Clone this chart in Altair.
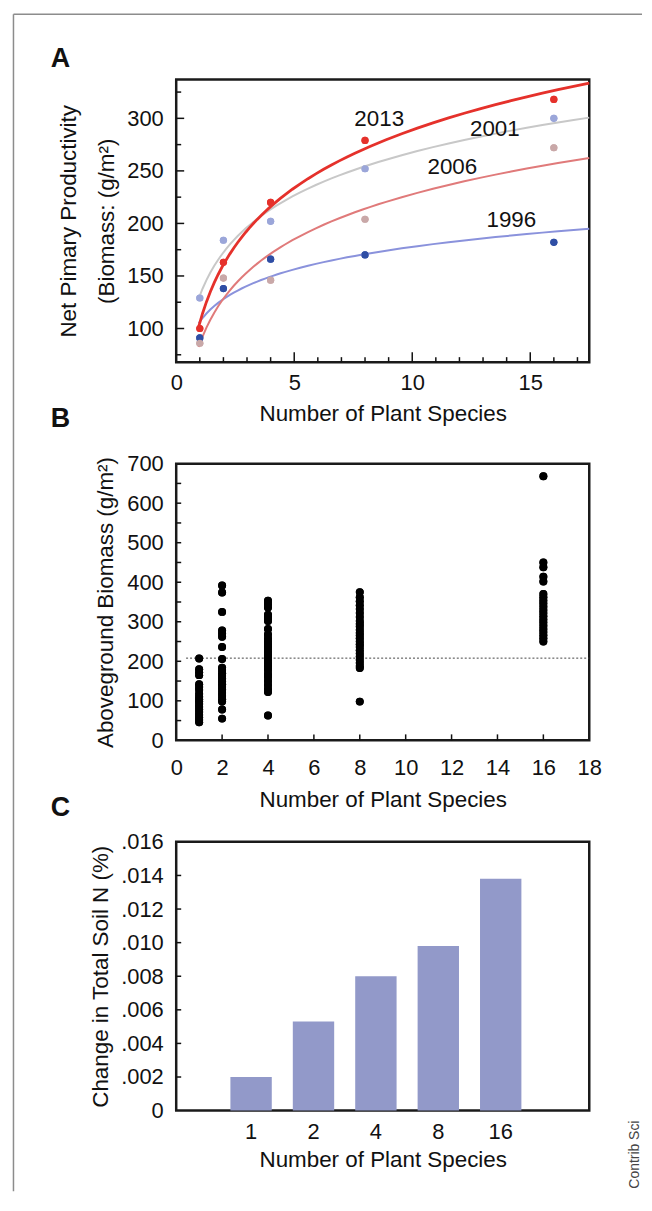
import altair as alt
import pandas as pd

FONT = "Liberation Sans"
INK = "#111111"

# ---------------- Panel A: net primary productivity by year ----------------
species_a = [1, 2, 4, 8, 16]
years = ["1996", "2001", "2006", "2013"]
npp_1996 = [91, 138, 166, 170, 182]
npp_2001 = [129, 184, 202, 252, 300]
npp_2006 = [86, 148, 146, 204, 272]
npp_2013 = [100, 163, 220, 279, 318]
point_colors = ["#2f4ea5", "#9ba6d9", "#c9a8a8", "#e5312b"]
line_colors = ["#8a92dc", "#c8c8c8", "#e07a7a", "#e5312b"]
line_widths = [2.0, 2.0, 2.0, 2.8]
label_x = [14.2, 13.5, 11.7, 8.6]
label_y = [203, 290, 254, 299]

a_xtick_minor = [1, 2, 3, 4, 6, 7, 8, 9, 11, 12, 13, 14, 16, 17]
a_xtick_major = [5, 10, 15]
a_ytick_minor = [75, 125, 175, 225, 275, 325]
a_ytick_major = [100, 150, 200, 250, 300]

# ---------------- Panel B: aboveground biomass per plot ----------------
b_levels = [1, 2, 4, 8, 16]
b_sp1 = [207, 180, 172, 165, 142, 135, 128, 118, 110, 104, 98, 92, 85, 78, 72, 65, 58, 52, 46]
b_sp2 = [392, 374, 325, 278, 270, 262, 236, 206, 184, 178, 170, 163, 156, 149, 142, 135,
         128, 120, 112, 104, 98, 78, 55]
b_sp4 = [353, 345, 336, 318, 310, 302, 282, 268, 258, 250, 242, 234, 226, 218, 210, 202,
         194, 186, 178, 168, 160, 150, 140, 130, 122, 63]
b_sp8 = [375, 362, 352, 342, 332, 322, 312, 302, 295, 288, 280, 272, 265, 258, 250, 243,
         236, 228, 220, 212, 204, 196, 188, 183, 98]
b_sp16 = [668, 450, 438, 414, 402, 370, 362, 354, 346, 338, 330, 322, 314, 306, 298, 290,
          282, 274, 266, 258, 250]
b_ref_value = [208]
b_ref_start = [0.43]
b_ref_end = [18]
b_xtick = [2, 4, 6, 8, 10, 12, 14, 16]
b_ytick = [50, 100, 150, 200, 250, 300, 350, 400, 450, 500, 550, 600, 650]

# ---------------- Panel C: change in total soil N ----------------
c_species = ["1", "2", "4", "8", "16"]
c_change = [0.0020, 0.0053, 0.0080, 0.0098, 0.0138]
c_ytick = [0.002, 0.004, 0.006, 0.008, 0.010, 0.012, 0.014]

# ---------------- tables ----------------
rows = []
for yr, vals, pc, lc, lw in zip(years, [npp_1996, npp_2001, npp_2006, npp_2013],
                                point_colors, line_colors, line_widths):
    for s, v in zip(species_a, vals):
        rows.append({"year": yr, "species": s, "npp": v, "pcolor": pc, "lcolor": lc, "lw": lw})
df_a = pd.DataFrame(rows)
df_a_labels = pd.DataFrame({"year": years, "lx": label_x, "ly": label_y})

brows = []
for s, vals in zip(b_levels, [b_sp1, b_sp2, b_sp4, b_sp8, b_sp16]):
    for v in vals:
        brows.append({"species": s, "biomass": v})
df_b = pd.DataFrame(brows)
df_b_ref = pd.DataFrame({"y": b_ref_value, "x0": b_ref_start, "x1": b_ref_end})

df_c = pd.DataFrame({"species": c_species, "change": c_change})

W = 415
HA, HB, HC = 284, 278, 270
TICK = "#111111"


def one(text):
    return pd.DataFrame({"t": [text]})


def letter(text, y):
    return alt.Chart(one(text)).mark_text(
        font=FONT, fontSize=27, fontWeight="bold", align="left", baseline="alphabetic", color=INK
    ).encode(text="t:N", x=alt.value(-126), y=alt.value(y))


def xticks(vals, scale, axis, h, length):
    return alt.Chart(pd.DataFrame({"v": vals})).mark_rule(color=TICK, strokeWidth=1.5).encode(
        x=alt.X("v:Q", scale=scale, axis=axis), y=alt.value(h), y2=alt.value(h - length))


def yticks(vals, scale, axis, length):
    return alt.Chart(pd.DataFrame({"v": vals})).mark_rule(color=TICK, strokeWidth=1.5).encode(
        y=alt.Y("v:Q", scale=scale, axis=axis), x=alt.value(0), x2=alt.value(length))


# ---------------- Panel A ----------------
xa = alt.Scale(domain=[0, 17.5], nice=False, zero=False)
ya = alt.Scale(domain=[68, 337], nice=False, zero=False)
ax_xa = alt.Axis(values=[0, 5, 10, 15], title="Number of Plant Species",
                 labelPadding=10, titlePadding=10)
ax_ya = alt.Axis(values=[100, 150, 200, 250, 300],
                 title=["Net Pimary Productivity", "\u00a0\u00a0\u00a0\u00a0(Biomass: (g/m²)"],
                 titleLineHeight=38, labelPadding=13, titlePadding=8)

points_a = alt.Chart(df_a).mark_circle(size=52, opacity=1).encode(
    x=alt.X("species:Q", scale=xa, axis=ax_xa),
    y=alt.Y("npp:Q", scale=ya, axis=ax_ya),
    color=alt.Color("pcolor:N", scale=None),
)

lines_a = alt.Chart(df_a).transform_regression(
    "species", "npp", groupby=["year", "lcolor", "lw"], method="log", extent=[0.95, 17.5]
).mark_line().encode(
    x=alt.X("species:Q", scale=xa, axis=ax_xa),
    y=alt.Y("npp:Q", scale=ya, axis=ax_ya),
    color=alt.Color("lcolor:N", scale=None),
    strokeWidth=alt.StrokeWidth("lw:Q", scale=None),
    detail="year:N",
)

labels_a = alt.Chart(df_a_labels).mark_text(
    font=FONT, fontSize=22.5, color=INK, align="center", baseline="middle"
).encode(
    x=alt.X("lx:Q", scale=xa, axis=ax_xa),
    y=alt.Y("ly:Q", scale=ya, axis=ax_ya),
    text="year:N",
)

frame_color = "#8c8c8c"
border_top = alt.Chart(one("b")).mark_rule(color=frame_color, strokeWidth=1.5).encode(
    x=alt.value(-163.5), x2=alt.value(468), y=alt.value(-65.5))
border_left = alt.Chart(one("b")).mark_rule(color=frame_color, strokeWidth=1.5).encode(
    x=alt.value(-163.5), y=alt.value(-65.5), y2=alt.value(1117))

panel_a = alt.layer(
    points_a,
    border_top, border_left,
    xticks(a_xtick_minor, xa, ax_xa, HA, 5), xticks(a_xtick_major, xa, ax_xa, HA, 10),
    yticks(a_ytick_minor, ya, ax_ya, 5), yticks(a_ytick_major, ya, ax_ya, 8),
    lines_a, points_a, labels_a, letter("A", -13),
).properties(width=W, height=HA)

# ---------------- Panel B ----------------
xb = alt.Scale(domain=[0, 18], nice=False, zero=False)
yb = alt.Scale(domain=[0, 700], nice=False)
ax_xb = alt.Axis(values=list(range(0, 19, 2)), title="Number of Plant Species",
                 labelPadding=17, titlePadding=10)
ax_yb = alt.Axis(values=list(range(0, 701, 100)), title="Aboveground Biomass (g/m²)",
                 labelPadding=13, titlePadding=9)

ref_b = alt.Chart(df_b_ref).mark_rule(color="#444444", strokeWidth=1, strokeDash=[2, 2]).encode(
    x=alt.X("x0:Q", scale=xb, axis=ax_xb), x2="x1:Q", y=alt.Y("y:Q", scale=yb, axis=ax_yb))

dots_b = alt.Chart(df_b).mark_circle(size=64, opacity=1, color="#000000").encode(
    x=alt.X("species:Q", scale=xb, axis=ax_xb),
    y=alt.Y("biomass:Q", scale=yb, axis=ax_yb),
)

panel_b = alt.layer(
    dots_b,
    xticks(b_xtick, xb, ax_xb, HB, 6), yticks(b_ytick, yb, ax_yb, 5),
    ref_b, dots_b, letter("B", -37),
).properties(width=W, height=HB)

# ---------------- Panel C ----------------
xc = alt.Scale(domain=c_species, paddingInner=0.337, paddingOuter=0.978, align=0.444)
yc = alt.Scale(domain=[0, 0.016], nice=False)
ax_yc = alt.Axis(values=[0, 0.002, 0.004, 0.006, 0.008, 0.010, 0.012, 0.014, 0.016],
                 labelExpr="datum.value == 0 ? '0' : replace(format(datum.value, '.3f'), '0.', '.')",
                 title="Change in Total Soil N (%)", labelPadding=13, titlePadding=8)

bars_c = alt.Chart(df_c).mark_bar(color="#9299c9").encode(
    x=alt.X("species:N", scale=xc, sort=None,
            axis=alt.Axis(title="Number of Plant Species", labelAngle=0,
                          labelPadding=11, titlePadding=6)),
    y=alt.Y("change:Q", scale=yc, axis=ax_yc),
)

contrib = alt.Chart(one("Contrib Sci")).mark_text(
    font=FONT, fontSize=14, color="#444444", angle=270, align="right", baseline="middle"
).encode(text="t:N", x=alt.value(461), y=alt.value(280))

panel_c = alt.layer(
    bars_c, yticks(c_ytick, yc, ax_yc, 5), letter("C", -26), contrib,
).properties(width=W, height=HC)

chart = alt.vconcat(panel_a, panel_b, panel_c, spacing=102, bounds="flush").properties(
    padding={"left": 3, "top": 1, "right": 0, "bottom": 0}
).configure_view(
    stroke="#1a1a1a", strokeWidth=2.5
).configure_axis(
    labelFont=FONT, titleFont=FONT, labelFontSize=22, titleFontSize=22.5,
    labelColor=INK, titleColor=INK, titleFontWeight="normal",
    grid=False, ticks=False, domain=False, labelFlush=False, labelOverlap=False,
)

chart.save("out.html", embed_options={"renderer": "svg", "actions": False})
